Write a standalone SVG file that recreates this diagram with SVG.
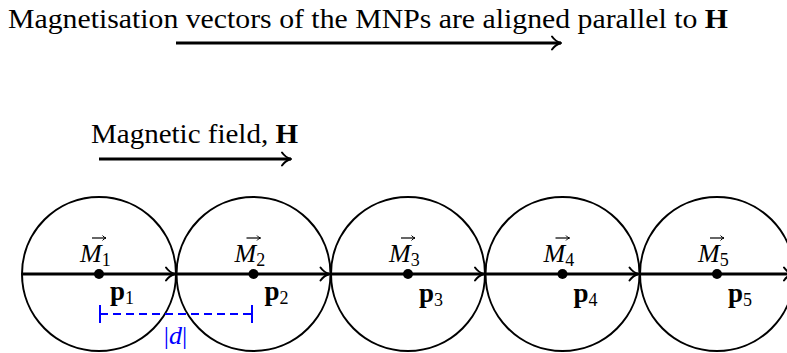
<svg xmlns="http://www.w3.org/2000/svg" width="787" height="353" viewBox="0 0 787 353">
<defs>
<marker id="ah" viewBox="0 0 14 16" refX="12" refY="8" markerWidth="14" markerHeight="16" markerUnits="userSpaceOnUse" orient="auto">
<path d="M3,1.5 Q6.5,6.5 12,8 Q6.5,9.5 3,14.5" fill="none" stroke="#000" stroke-width="2" stroke-linecap="round" stroke-linejoin="round"/>
</marker>
<marker id="sah" viewBox="0 0 6 6" refX="5" refY="3" markerWidth="6" markerHeight="6" markerUnits="userSpaceOnUse" orient="auto">
<path d="M1.5,0.5 Q3,2.5 5,3 Q3,3.5 1.5,5.5" fill="none" stroke="#000" stroke-width="1"/>
</marker>
</defs>
<style>
text{font-family:"Liberation Serif","Times New Roman",serif}
.c{fill:none;stroke:#000;stroke-width:2}
.a{stroke:#000;stroke-width:3;fill:none;marker-end:url(#ah)}
.m{font-style:italic;font-size:26px;fill:#000}
.sub{font-style:normal;font-weight:normal;font-size:18px}
.p{font-weight:bold;font-size:27px;fill:#000}
.ov{stroke:#000;stroke-width:1.2;fill:none;marker-end:url(#sah)}
</style>
<rect width="787" height="353" fill="#fff"/>
<g id="title">
<text x="8" y="28" font-size="27" textLength="720" lengthAdjust="spacingAndGlyphs">Magnetisation vectors of the MNPs are aligned parallel to <tspan font-weight="bold">H</tspan></text>
<line class="a" x1="176" y1="43" x2="561" y2="43"/>
</g>
<g id="field">
<text x="91" y="143" font-size="27" textLength="207" lengthAdjust="spacingAndGlyphs">Magnetic field, <tspan font-weight="bold">H</tspan></text>
<line class="a" x1="99" y1="159" x2="291" y2="159"/>
</g>
<g id="mnp1">
<circle class="c" cx="99" cy="274" r="77"/>
</g>
<g id="mnp2">
<circle class="c" cx="253.5" cy="274" r="77"/>
</g>
<g id="mnp3">
<circle class="c" cx="408" cy="274" r="77"/>
</g>
<g id="mnp4">
<circle class="c" cx="562.5" cy="274" r="77"/>
</g>
<g id="mnp5">
<circle class="c" cx="717" cy="274" r="77"/>
</g>
<g id="connectors">
<line class="a" x1="22" y1="274" x2="175" y2="274"/>
<line class="a" x1="176.5" y1="274" x2="329.5" y2="274"/>
<line class="a" x1="331" y1="274" x2="484" y2="274"/>
<line class="a" x1="485.5" y1="274" x2="638.5" y2="274"/>
<line class="a" x1="640" y1="274" x2="793" y2="274"/>
</g>
<g id="labels">
<circle cx="99" cy="274" r="5"/>
<circle cx="253.5" cy="274" r="5"/>
<circle cx="408" cy="274" r="5"/>
<circle cx="562.5" cy="274" r="5"/>
<circle cx="717" cy="274" r="5"/>
<text class="m" x="80" y="262">M<tspan class="sub" dy="4">1</tspan></text>
<text class="m" x="234.5" y="262">M<tspan class="sub" dy="4">2</tspan></text>
<text class="m" x="389" y="262">M<tspan class="sub" dy="4">3</tspan></text>
<text class="m" x="543.5" y="262">M<tspan class="sub" dy="4">4</tspan></text>
<text class="m" x="698" y="262">M<tspan class="sub" dy="4">5</tspan></text>
<line class="ov" x1="92" y1="238" x2="106" y2="238"/>
<line class="ov" x1="246.5" y1="238" x2="260.5" y2="238"/>
<line class="ov" x1="401" y1="238" x2="415" y2="238"/>
<line class="ov" x1="555.5" y1="238" x2="569.5" y2="238"/>
<line class="ov" x1="710" y1="238" x2="724" y2="238"/>
<text class="p" x="110" y="300">p<tspan class="sub" dy="4">1</tspan></text>
<text class="p" x="264.5" y="300">p<tspan class="sub" dy="4">2</tspan></text>
<text class="p" x="419" y="302">p<tspan class="sub" dy="4">3</tspan></text>
<text class="p" x="573.5" y="302">p<tspan class="sub" dy="4">4</tspan></text>
<text class="p" x="728" y="302">p<tspan class="sub" dy="4">5</tspan></text>
</g>
<g id="distance">
<line x1="100" y1="314" x2="252" y2="314" stroke="#0000ff" stroke-width="2" stroke-dasharray="8,5"/>
<line x1="100" y1="305" x2="100" y2="323" stroke="#0000ff" stroke-width="2"/>
<line x1="252" y1="305" x2="252" y2="323" stroke="#0000ff" stroke-width="2"/>
<text x="175.5" y="344" text-anchor="middle" font-size="26" fill="#0000ff">|<tspan font-style="italic">d</tspan>|</text>
</g>
</svg>
